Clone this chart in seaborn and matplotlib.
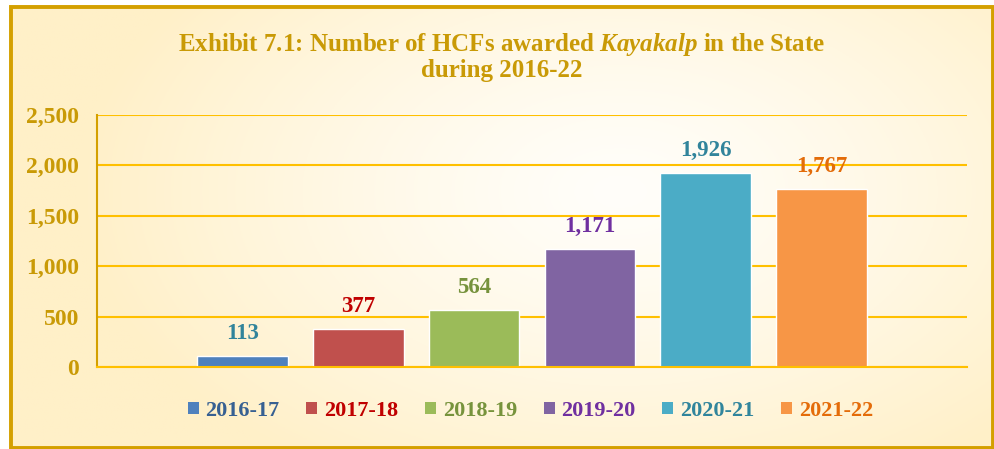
import numpy as np
import pandas as pd
import seaborn as sns
import matplotlib.pyplot as plt
from matplotlib.patches import Rectangle, Patch

## data
years = ['2016-17', '2017-18', '2018-19', '2019-20', '2020-21', '2021-22']
hcfs_awarded = [113, 377, 564, 1171, 1926, 1767]

bar_colors = ['#4F81BD', '#C0504D', '#9BBB59', '#8064A2', '#4BACC6', '#F79646']
label_colors = ['#31849B', '#C00000', '#76923C', '#7030A0', '#31849B', '#E36C09']
legend_text_colors = ['#376092', '#C00000', '#77933C', '#7030A0', '#31859C', '#E46C0A']
gold = '#C99A06'

df = pd.DataFrame({'Year': years, 'HCFs': hcfs_awarded})

sns.set_style('white')
plt.rcParams['font.family'] = ['Liberation Serif', 'DejaVu Serif']
plt.rcParams['font.weight'] = 'bold'
plt.rcParams['mathtext.fontset'] = 'custom'
plt.rcParams['mathtext.rm'] = 'Liberation Serif:bold'
plt.rcParams['mathtext.it'] = 'Liberation Serif:italic:bold'

fig = plt.figure(figsize=(9.95, 4.49), dpi=100)
fig.patch.set_facecolor('white')

# radial cream background inside the frame
bg = fig.add_axes([9/995, 0, 986/995, 1 - 5/449], zorder=-10)
yy, xx = np.mgrid[0:1:200j, 0:1:400j]
r = np.sqrt(((xx - 0.62) / 0.55) ** 2 + ((yy - 0.42) / 0.75) ** 2)
t = np.clip(r, 0, 1) ** 1.3
edge = np.array([255, 240, 200]) / 255
centre = np.array([255, 254, 250]) / 255
img = centre[None, None, :] * (1 - t[..., None]) + edge[None, None, :] * t[..., None]
bg.imshow(img, aspect='auto', extent=(0, 1, 0, 1), origin='upper')
bg.set_axis_off()

fig.patches.append(Rectangle((11/995, 1/449), 982/995, 1 - 8/449, transform=fig.transFigure,
                             fill=False, edgecolor='#D4A000', linewidth=2.8, zorder=5))

ax = fig.add_axes([97/995, 1 - 367/449, 870/995, 252/449])
ax.patch.set_alpha(0)

sns.barplot(data=df, x='Year', y='HCFs', hue='Year', palette=bar_colors,
            width=0.784, saturation=1, legend=False, ax=ax)

ax.set_xlim(-1.255, 6.255)
ax.set_ylim(0, 2500)
ax.set_yticks(range(0, 2501, 500))
ax.set_yticklabels([f'{v:,}' for v in range(0, 2501, 500)], fontsize=17,
                   color=gold, fontweight='bold')
ax.tick_params(axis='y', length=0, pad=13)
ax.set_xticks([])
ax.set_xlabel('')
ax.set_ylabel('')
ax.yaxis.grid(True, color='#FFC000', linewidth=1.5)
ax.set_axisbelow(True)
for s in ['top', 'right']:
    ax.spines[s].set_visible(False)
ax.spines['left'].set_color('#D4A000')
ax.spines['left'].set_linewidth(1.5)
ax.spines['bottom'].set_color('#FFC000')
ax.spines['bottom'].set_linewidth(1.5)

for i, v in enumerate(hcfs_awarded):
    ax.annotate(f'{v:,}', (i, v), xytext=(0, 16), textcoords='offset points',
                ha='center', va='center', fontsize=16.5, fontweight='bold',
                color=label_colors[i])

fig.text(0.5045, 1 - 45/449, r'Exhibit 7.1: Number of HCFs awarded $\mathit{Kayakalp}$ in the State',
         ha='center', va='center', fontsize=18, fontweight='bold', color=gold)
fig.text(0.5045, 1 - 71/449, 'during 2016-22', ha='center', va='center',
         fontsize=18, fontweight='bold', color=gold)

handles = [Patch(facecolor=c, edgecolor='none') for c in bar_colors]
leg = fig.legend(handles, years, loc='center', bbox_to_anchor=(0.533, 1 - 411/449),
                 ncol=6, frameon=False, fontsize=16, handlelength=0.5, handleheight=0.5,
                 handletextpad=0.3, columnspacing=1.2)
for txt, c in zip(leg.get_texts(), legend_text_colors):
    txt.set_color(c)
    txt.set_fontweight('bold')

fig.savefig('out.png', dpi=100)
